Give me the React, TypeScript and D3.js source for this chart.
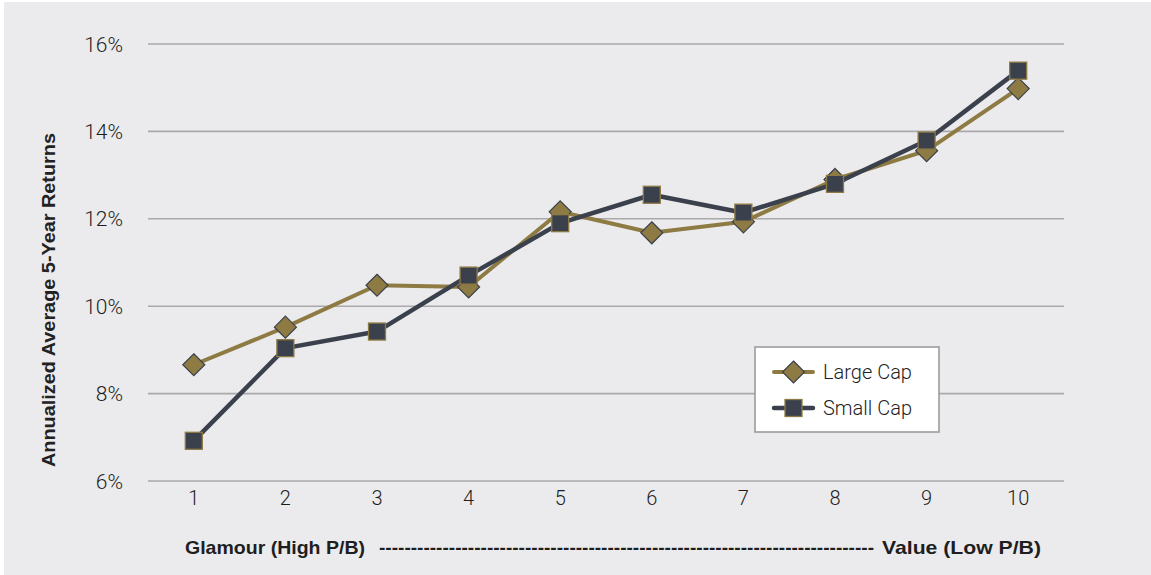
import React from "react";
import * as d3 from "d3";

const categories = ["1", "2", "3", "4", "5", "6", "7", "8", "9", "10"];
const largeCap = [8.66, 9.52, 10.48, 10.44, 12.16, 11.68, 11.93, 12.9, 13.56, 14.98];
const smallCap = [6.92, 9.04, 9.42, 10.7, 11.9, 12.55, 12.14, 12.8, 13.79, 15.39];
const yTicks = [6, 8, 10, 12, 14, 16];
const seriesNames = ["Large Cap", "Small Cap"];

const W = 1151;
const H = 575;
const GOLD = "#8e7a43";
const DARK = "#3b414c";
const GRID = "#a9a9ab";
const BG = "#ebebed";

export default function App() {
  const x = d3.scaleBand<string>().domain(categories).range([148, 1064]);
  const y = d3.scaleLinear().domain([6, 16]).range([481, 44]);
  const cx = (c: string) => (x(c) as number) + x.bandwidth() / 2;

  const line = d3
    .line<number>()
    .x((_, i) => cx(categories[i]))
    .y((d) => y(d));

  const diamond = (px: number, py: number, r: number) =>
    `M${px},${py - r}L${px + r},${py}L${px},${py + r}L${px - r},${py}Z`;

  const tickFont = "Roboto, Lato, sans-serif";
  const boldFont = "'Liberation Sans', Arial, sans-serif";

  const leg = { x: 755, y: 347, w: 184, h: 85 };
  const legRows = [372, 408];

  return (
    <svg
      width={W}
      height={H}
      style={{ position: "absolute", left: 0, top: 0, display: "block" }}
    >
      <rect x={0} y={0} width={W} height={H} fill="#ffffff" />
      <rect x={4} y={2} width={W - 4} height={H - 2} fill={BG} />

      {yTicks.map((t) => (
        <g key={t}>
          <line x1={148} x2={1064} y1={y(t)} y2={y(t)} stroke={GRID} strokeWidth={1.6} />
          <text
            x={123}
            y={y(t)}
            dy="0.36em"
            textAnchor="end"
            fontFamily={tickFont}
            fontWeight={300}
            fontSize={21}
            fill="#1e1e1e"
          >
            {t}%
          </text>
        </g>
      ))}

      {categories.map((c) => (
        <text
          key={c}
          x={cx(c)}
          y={505}
          textAnchor="middle"
          fontFamily={tickFont}
          fontWeight={300}
          fontSize={20}
          fill="#1e1e1e"
        >
          {c}
        </text>
      ))}

      <text
        transform={`translate(55,${300}) rotate(-90)`}
        textAnchor="middle"
        textLength={334}
        lengthAdjust="spacingAndGlyphs"
        fontFamily={boldFont}
        fontWeight="bold"
        fontSize={18}
        fill="#222"
      >
        Annualized Average 5-Year Returns
      </text>

      <text
        x={185}
        y={554}
        textLength={180}
        lengthAdjust="spacingAndGlyphs"
        fontFamily={boldFont}
        fontWeight="bold"
        fontSize={19}
        fill="#1e1e1e"
      >
        Glamour (High P/B)
      </text>
      <text
        x={379}
        y={554}
        textLength={495}
        lengthAdjust="spacingAndGlyphs"
        fontFamily={boldFont}
        fontWeight="bold"
        fontSize={19}
        fill="#1e1e1e"
      >
        {"-".repeat(78)}
      </text>
      <text
        x={882}
        y={554}
        textLength={159}
        lengthAdjust="spacingAndGlyphs"
        fontFamily={boldFont}
        fontWeight="bold"
        fontSize={19}
        fill="#1e1e1e"
      >
        Value (Low P/B)
      </text>

      {/* Large Cap */}
      <path d={line(largeCap) || ""} fill="none" stroke={GOLD} strokeWidth={4} strokeLinejoin="round" />
      {largeCap.map((v, i) => (
        <path
          key={"l" + i}
          d={diamond(cx(categories[i]), y(v), 11)}
          fill={GOLD}
          stroke={DARK}
          strokeWidth={1.2}
        />
      ))}

      {/* Small Cap */}
      <path d={line(smallCap) || ""} fill="none" stroke={DARK} strokeWidth={4.5} strokeLinejoin="round" />
      {smallCap.map((v, i) => (
        <rect
          key={"s" + i}
          x={cx(categories[i]) - 8.5}
          y={y(v) - 8.5}
          width={17}
          height={17}
          fill={DARK}
          stroke={GOLD}
          strokeWidth={1.3}
        />
      ))}

      {/* Legend */}
      <rect x={leg.x} y={leg.y} width={leg.w} height={leg.h} fill="#ffffff" stroke="#9c9c9e" strokeWidth={1.6} />
      <line x1={774} x2={813} y1={legRows[0]} y2={legRows[0]} stroke={GOLD} strokeWidth={4} strokeLinecap="round" />
      <path d={diamond(793.5, legRows[0], 11)} fill={GOLD} stroke={DARK} strokeWidth={1.2} />
      <text x={823} y={legRows[0]} dy="0.36em" fontFamily={tickFont} fontWeight={300} fontSize={20} fill="#1e1e1e">
        {seriesNames[0]}
      </text>
      <line x1={774} x2={813} y1={legRows[1]} y2={legRows[1]} stroke={DARK} strokeWidth={4.5} strokeLinecap="round" />
      <rect x={793.5 - 8.5} y={legRows[1] - 8.5} width={17} height={17} fill={DARK} stroke={GOLD} strokeWidth={1.3} />
      <text x={823} y={legRows[1]} dy="0.36em" fontFamily={tickFont} fontWeight={300} fontSize={20} fill="#1e1e1e">
        {seriesNames[1]}
      </text>
    </svg>
  );
}
